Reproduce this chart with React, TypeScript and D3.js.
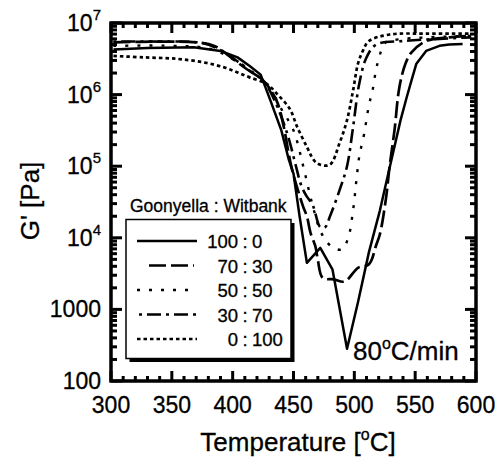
import React, { useRef, useEffect } from 'react';
import * as d3 from 'd3';

// tick values / labels
const xTicks = [300, 350, 400, 450, 500, 550, 600];
const yDecades = [2, 3, 4, 5, 6, 7];

// Goonyella : Witbank blend ratios
const ratioG = ['100', '70', '50', '30', '0'];
const ratioW = ['0', '30', '50', '70', '100'];

// 100 : 0
const t100 = [302, 330, 368, 390, 404, 414, 423, 431, 440, 446, 450, 455, 461, 472, 482, 494, 503, 512, 521, 529, 538, 543, 547, 551, 559, 570, 578, 589];
const g100 = [4.27e6, 4.47e6, 4.57e6, 4.07e6, 3.31e6, 2.51e6, 1.9e6, 8.3e5, 3.16e5, 1.26e5, 7.9e4, 2.0e4, 4470, 7240, 3630, 282, 1260, 6310, 2.4e4, 9.5e4, 4.4e5, 9.1e5, 1.58e6, 2.7e6, 4.07e6, 4.8e6, 5.0e6, 5.1e6];

// 70 : 30
const t70 = [302, 340, 370, 385, 400, 412, 425, 436, 442, 446, 449, 458, 461, 464, 468, 470, 474, 483, 492, 503, 512, 518, 521, 526, 529, 533, 537, 542, 547, 559, 578, 596];
const g70 = [5.37e6, 5.5e6, 5.37e6, 4.79e6, 3.16e6, 2.24e6, 1.58e6, 8.3e5, 3.55e5, 1.51e5, 8.7e4, 2.7e4, 2.0e4, 1.17e4, 7590, 4900, 2750, 2630, 2450, 3800, 4270, 7940, 1.12e4, 3.55e4, 1e5, 3.16e5, 1.26e6, 2.7e6, 3.9e6, 5.6e6, 6.3e6, 6.6e6];

// 50 : 50
const t50 = [302, 350, 380, 400, 415, 425, 432, 440, 450, 458, 465, 472, 478, 484, 490, 495, 499, 502, 504, 508, 512, 515, 519, 526, 536, 560, 596];
const g50 = [4.8e6, 4.8e6, 4.4e6, 3.16e6, 2.14e6, 1.58e6, 1.12e6, 6.3e5, 3.16e5, 1e5, 3.16e4, 1.26e4, 8500, 7080, 6900, 1e4, 2.45e4, 7.1e4, 1.35e5, 2.8e5, 7.1e5, 1.15e6, 2.7e6, 5.4e6, 5.9e6, 6.3e6, 6.6e6];

// 30 : 70
const t30 = [302, 340, 375, 390, 405, 415, 425, 435, 445, 452, 456, 460, 466, 472, 476, 480, 488, 494, 499, 504, 510, 518, 540, 570, 596];
const g30 = [5.5e6, 5.5e6, 5.25e6, 4.17e6, 2.82e6, 2.09e6, 1.58e6, 7.9e5, 2.8e5, 1e5, 5.6e4, 4e4, 2.8e4, 1.41e4, 1.41e4, 2e4, 4.7e4, 1e5, 3.55e5, 1.41e6, 3.3e6, 5e6, 5.6e6, 6e6, 6.3e6];

// 0 : 100
const t0 = [302, 327, 354, 376, 393, 404, 414, 428, 437, 447, 453, 461, 467, 472, 480, 488, 494, 499, 503, 507, 512, 529, 560, 596];
const g0 = [3.47e6, 3.31e6, 3.16e6, 2.82e6, 2.4e6, 2.04e6, 1.74e6, 1.41e6, 1e6, 6.3e5, 3.55e5, 1.86e5, 1.2e5, 1.05e5, 1.05e5, 2.14e5, 4.4e5, 1.15e6, 2.7e6, 4.07e6, 5.6e6, 6.9e6, 7.1e6, 7.1e6];

const FONT = "'Liberation Sans', Arial, Helvetica, sans-serif";

const App = () => {
  const svgRef = useRef(null);

  useEffect(() => {
    const width = 503;
    const height = 459;
    const left = 111, right = 476, top = 23, bottom = 381;

    const svg = d3.select(svgRef.current);
    svg.selectAll('*').remove();
    svg.attr('width', width).attr('height', height).attr('viewBox', [0, 0, width, height]);

    svg.append('rect').attr('width', width).attr('height', height).attr('fill', '#fff');

    const x = d3.scaleLinear().domain([300, 600]).range([left, right]);
    const y = d3.scaleLog().domain([100, 1e7]).range([bottom, top]);

    const series = [
      { t: t100, g: g100, dash: null, w: 2.5, curve: d3.curveLinear, from: 137 },
      { t: t70, g: g70, dash: '17,5', w: 2.7, curve: d3.curveCatmullRom.alpha(0.5), from: 149 },
      { t: t50, g: g50, dash: '3,9', w: 2.4, curve: d3.curveCatmullRom.alpha(0.5), from: 137 },
      { t: t30, g: g30, dash: '3,5,14,5', w: 2.6, curve: d3.curveCatmullRom.alpha(0.5), from: 139 },
      { t: t0, g: g0, dash: '3.5,3', w: 2.7, curve: d3.curveCatmullRom.alpha(0.5), from: 137 },
    ];

    svg.append('clipPath').attr('id', 'plotclip')
      .append('rect').attr('x', left).attr('y', top).attr('width', right - left).attr('height', bottom - top);

    const lines = svg.append('g').attr('clip-path', 'url(#plotclip)');
    series.forEach(s => {
      const pts = s.t.map((t, i) => [t, s.g[i]]);
      const line = d3.line().x(d => x(d[0])).y(d => y(d[1])).curve(s.curve);
      lines.append('path')
        .attr('d', line(pts))
        .attr('fill', 'none')
        .attr('stroke', '#000')
        .attr('stroke-width', s.w)
        .attr('stroke-dasharray', s.dash)
        .attr('stroke-linejoin', 'round');
    });

    // ticks, all four sides, pointing inward
    const ticks = svg.append('g').attr('stroke', '#000').attr('stroke-width', 3);
    d3.range(300, 601, 10).forEach(v => {
      const len = v % 50 === 0 ? 10 : 5;
      ticks.append('line').attr('x1', x(v)).attr('x2', x(v)).attr('y1', bottom).attr('y2', bottom - len);
      ticks.append('line').attr('x1', x(v)).attr('x2', x(v)).attr('y1', top).attr('y2', top + len);
    });
    yDecades.forEach(e => {
      const base = Math.pow(10, e);
      const vals = e < 7 ? [1, 2, 3, 4, 5, 6, 7, 8, 9] : [1];
      vals.forEach(k => {
        const v = k * base;
        const len = k === 1 ? 11 : 6;
        ticks.append('line').attr('x1', left).attr('x2', left + len).attr('y1', y(v)).attr('y2', y(v));
        ticks.append('line').attr('x1', right).attr('x2', right - len).attr('y1', y(v)).attr('y2', y(v));
      });
    });

    svg.append('rect')
      .attr('x', left).attr('y', top).attr('width', right - left).attr('height', bottom - top)
      .attr('fill', 'none').attr('stroke', '#000').attr('stroke-width', 3.5);

    const txt = svg.append('g').attr('font-family', FONT).attr('fill', '#000')
      .attr('stroke', '#000').attr('stroke-width', 0.3);

    // x tick labels
    xTicks.forEach(v => {
      txt.append('text').attr('x', x(v)).attr('y', 413)
        .attr('text-anchor', 'middle').attr('font-size', 23).text(v);
    });

    // y tick labels
    yDecades.forEach(e => {
      const v = Math.pow(10, e);
      const t = txt.append('text').attr('x', 101).attr('y', y(v) + 8)
        .attr('text-anchor', 'end').attr('font-size', 23);
      if (e <= 3) {
        t.text(String(v));
      } else {
        t.append('tspan').text('10');
        t.append('tspan').attr('dy', -11).attr('font-size', 15).text(e);
      }
    });

    // axis titles
    const xt = txt.append('text').attr('x', 298).attr('y', 451)
      .attr('text-anchor', 'middle').attr('font-size', 26);
    xt.append('tspan').text('Temperature [');
    xt.append('tspan').attr('dy', -11).attr('font-size', 16).text('o');
    xt.append('tspan').attr('dy', 11).text('C]');

    txt.append('text').attr('transform', 'translate(39,201) rotate(-90)')
      .attr('text-anchor', 'middle').attr('font-size', 26).text("G' [Pa]");

    // heating rate note
    const note = txt.append('text').attr('x', 353).attr('y', 360).attr('font-size', 26);
    note.append('tspan').text('80');
    note.append('tspan').attr('dy', -11).attr('font-size', 16).text('o');
    note.append('tspan').attr('dy', 11).text('C/min');

    // legend
    txt.append('text').attr('x', 130).attr('y', 212).attr('font-size', 17.5).text('Goonyella : Witbank');
    const lg = svg.append('g');
    lg.append('rect').attr('x', 129.5).attr('y', 223).attr('width', 165).attr('height', 139).attr('fill', '#000');
    lg.append('rect').attr('x', 126).attr('y', 219.5).attr('width', 165).attr('height', 139)
      .attr('fill', '#fff').attr('stroke', '#000').attr('stroke-width', 1.5);

    const rowY = d3.scaleLinear().domain([0, 4]).range([241, 339]);
    series.forEach((s, i) => {
      const cy = rowY(i);
      lg.append('line').attr('x1', s.from).attr('x2', i === 1 ? 194 : 197).attr('y1', cy).attr('y2', cy)
        .attr('stroke', '#000').attr('stroke-width', s.w).attr('stroke-dasharray', s.dash);
      const row = lg.append('g').attr('font-family', FONT).attr('font-size', 18.5)
        .attr('stroke', '#000').attr('stroke-width', 0.3);
      row.append('text').attr('x', 238).attr('y', cy + 7).attr('text-anchor', 'end').text(ratioG[i]);
      row.append('text').attr('x', 245).attr('y', cy + 7).attr('text-anchor', 'middle').text(':');
      row.append('text').attr('x', 252).attr('y', cy + 7).attr('text-anchor', 'start').text(ratioW[i]);
    });
  }, []);

  return (
    <div style={{ position: 'absolute', left: 0, top: 0 }}>
      <svg ref={svgRef}></svg>
    </div>
  );
};

export default App;
